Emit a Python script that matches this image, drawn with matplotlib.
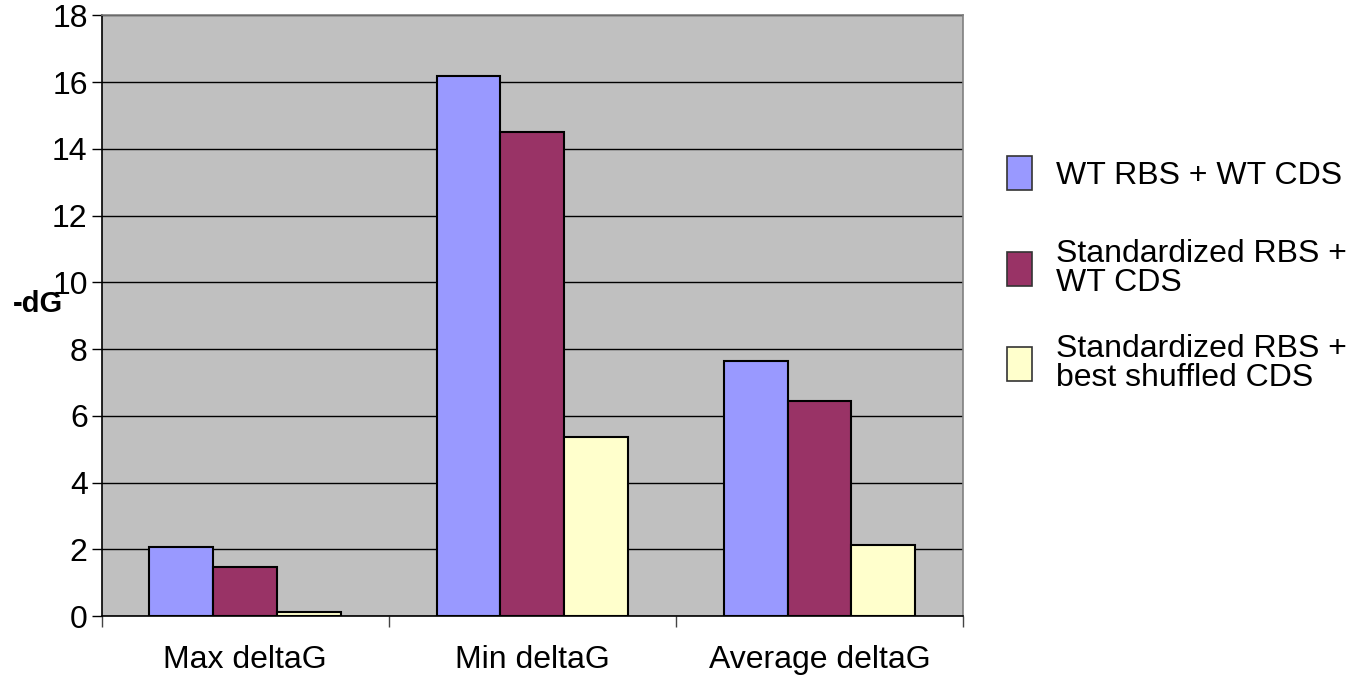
import numpy as np
import matplotlib.pyplot as plt
from matplotlib.patches import Patch

plt.rcParams['font.family'] = ['Liberation Sans', 'DejaVu Sans']

# data
categories = ['Max deltaG', 'Min deltaG', 'Average deltaG']
series_names = ['WT RBS + WT CDS',
                'Standardized RBS +\nWT CDS',
                'Standardized RBS +\nbest shuffled CDS']
wt_wt = [2.08, 16.17, 7.65]
std_wt = [1.48, 14.5, 6.46]
std_shuffled = [0.12, 5.38, 2.13]
colors = ['#9999FF', '#993366', '#FFFFCC']

fs = 23

fig = plt.figure(figsize=(13.61, 6.79), dpi=100)
ax = fig.add_axes([0.0746, 0.0924, 0.633, 0.885])
ax.set_facecolor('#C0C0C0')

x = np.arange(len(categories))
w = 1 / 4.5
for i, vals in enumerate([wt_wt, std_wt, std_shuffled]):
    ax.bar(x + (i - 1) * w, vals, width=w, color=colors[i],
           edgecolor='black', linewidth=1.5, zorder=3)

ax.set_xlim(-0.5, 2.5)
ax.set_ylim(0, 18)
ax.set_yticks(range(0, 19, 2))
ax.yaxis.grid(True, color='black', linewidth=1.0, zorder=1)
ax.set_axisbelow(True)

ax.set_xticks(x)
ax.set_xticklabels(categories)
ax.set_xticks([-0.5, 0.5, 1.5, 2.5], minor=True)
ax.tick_params(axis='x', which='major', length=0, pad=21, labelsize=fs)
ax.tick_params(axis='x', which='minor', length=8, width=1, color='#444444')
ax.tick_params(axis='y', length=7, width=1, labelsize=fs, pad=3)

for s in ['left', 'bottom']:
    ax.spines[s].set_color('black')
    ax.spines[s].set_linewidth(1.2)
for s in ['top', 'right']:
    ax.spines[s].set_color('#808080')
    ax.spines[s].set_linewidth(1.2)

# axis title sits horizontally left of the axis, as in the original
fig.text(0.028, 0.552, '-dG', fontsize=21, fontweight='bold',
         ha='center', va='center')

# one legend entry per block, stacked like the original
legend_y = [0.745, 0.605, 0.465]
for c, name, ly in zip(colors, series_names, legend_y):
    h = Patch(facecolor=c, edgecolor='#333333', linewidth=1.2)
    leg = fig.legend([h], [name], loc='center left',
                     bbox_to_anchor=(0.7399, ly), frameon=False, fontsize=fs,
                     handlelength=0.78, handleheight=1.26, handletextpad=0.75,
                     borderpad=0, borderaxespad=0)
    for t in leg.get_texts():
        t.set_linespacing(0.95)

fig.savefig('out.png', dpi=100)
